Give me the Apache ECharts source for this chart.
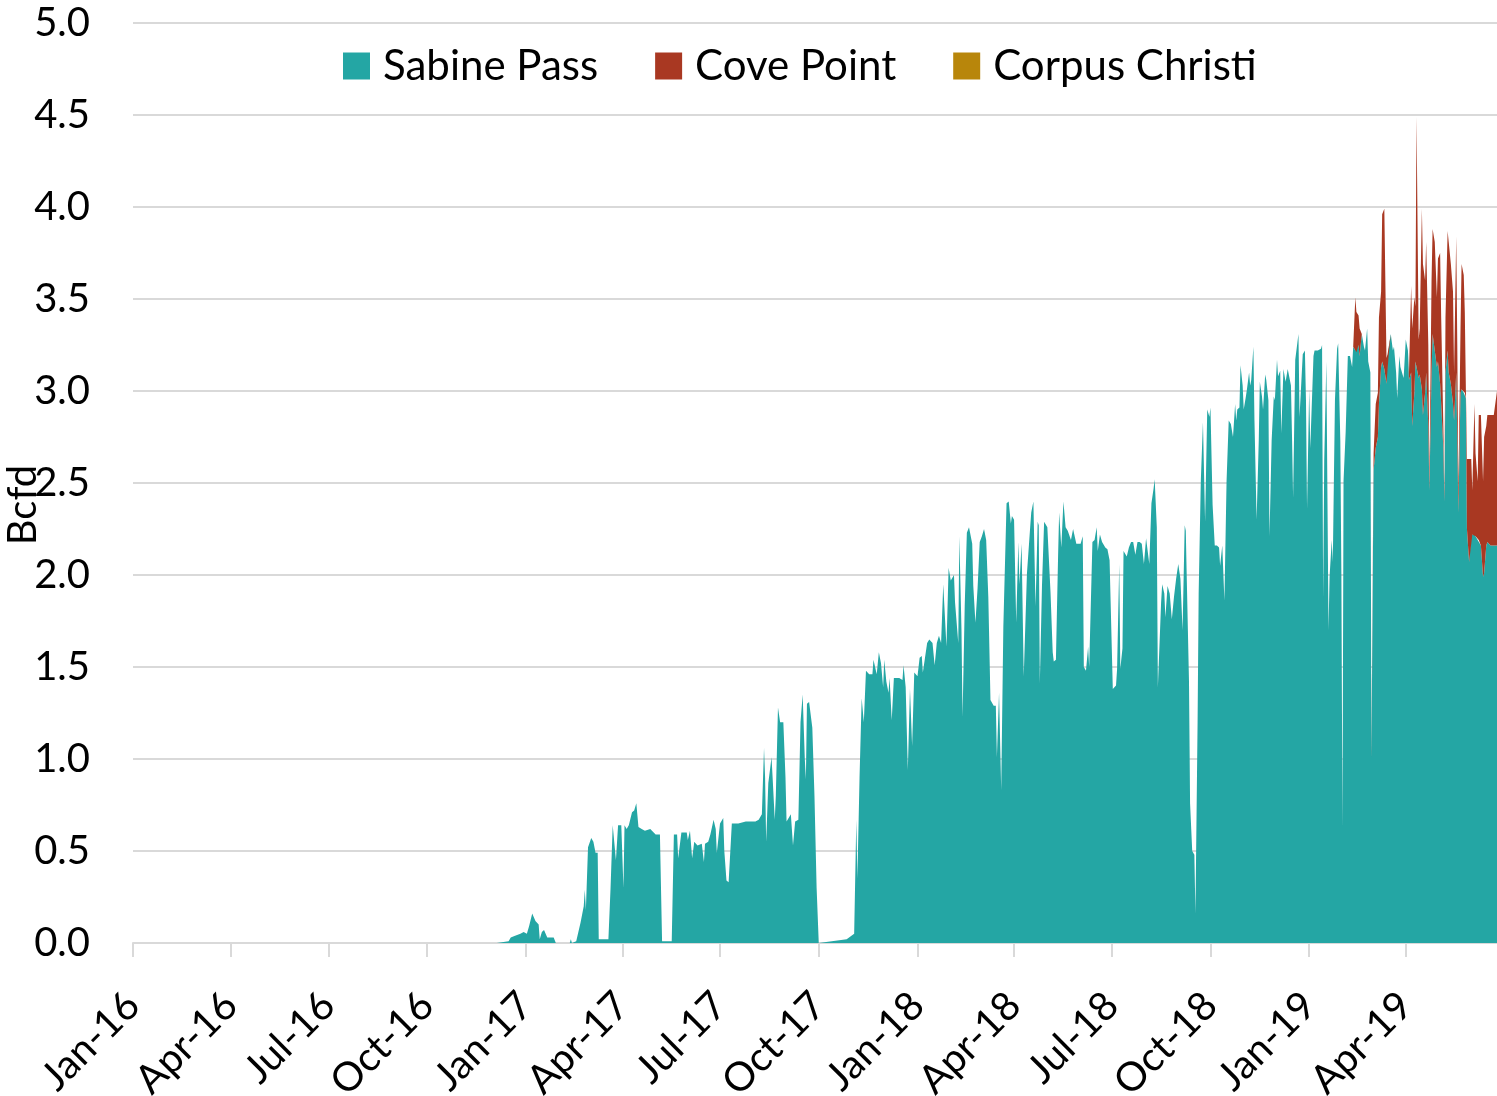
<!DOCTYPE html>
<html lang="en">
<head>
    <meta charset="UTF-8">
    <title>LNG export terminals - feedgas</title>
    <script type="text/javascript" src="https://cdn.jsdelivr.net/npm/echarts@6/dist/echarts.min.js"></script>
    <style>
        html, body { margin: 0; padding: 0; background: #fff; }
        #main { width: 1497px; height: 1096px; }
    </style>
</head>
<body>
    <div id="main"></div>
    <script type="text/javascript">
        // day offsets counted from 1 Jan 2016
        const sabinePassDays = [
            0, 339, 350, 352, 356, 361, 364, 367, 369, 372,
            375, 378, 379, 381, 383, 386, 392, 394, 407, 408,
            409, 413, 417, 420, 421, 422, 424, 427, 429, 431,
            433, 434, 443, 445, 447, 448, 450, 452, 455, 457,
            458, 460, 462, 465, 467, 469, 471, 474, 477, 482,
            487, 491, 493, 502, 504, 507, 508, 511, 516, 517,
            519, 521, 523, 526, 530, 532, 533, 536, 538, 541,
            543, 544, 547, 550, 551, 553, 555, 558, 564, 571,
            580, 583, 586, 588, 589, 590, 592, 595, 596, 598,
            599, 601, 603, 606, 608, 609, 613, 615, 617, 620,
            622, 624, 626, 627, 628, 630, 633, 635, 637, 639,
            665, 672, 674, 675, 677, 679, 681, 683, 686, 689,
            690, 693, 695, 697, 699, 700, 702, 704, 705, 707,
            709, 714, 717, 718, 720, 722, 724, 726, 728, 731,
            733, 735, 736, 738, 740, 742, 745, 747, 749, 751,
            753, 755, 758, 760, 762, 765, 766, 769, 770, 772,
            773, 775, 777, 779, 782, 783, 785, 787, 789, 791,
            793, 795, 797, 799, 802, 804, 805, 807, 809, 811,
            814, 816, 818, 819, 821, 823, 825, 826, 828, 830,
            831, 833, 836, 837, 839, 841, 843, 844, 845, 847,
            849, 852, 853, 855, 857, 858, 860, 862, 863, 865,
            867, 869, 871, 874, 876, 877, 879, 883, 885, 886,
            888, 890, 891, 894, 896, 898, 899, 901, 903, 906,
            908, 910, 913, 916, 917, 919, 920, 922, 923, 926,
            928, 930, 932, 934, 936, 938, 940, 942, 944, 947,
            949, 951, 952, 954, 955, 958, 959, 961, 962, 964,
            966, 968, 970, 972, 974, 976, 978, 980, 981, 982,
            984, 985, 987, 989, 990, 992, 993, 995, 997, 999,
            1001, 1003, 1004, 1006, 1008, 1010, 1012, 1013, 1015, 1017,
            1019, 1021, 1023, 1025, 1027, 1028, 1029, 1031, 1032, 1034,
            1035, 1037, 1038, 1040, 1041, 1042, 1044, 1045, 1047, 1049,
            1050, 1052, 1053, 1055, 1056, 1058, 1059, 1061, 1063, 1064,
            1066, 1067, 1069, 1070, 1072, 1074, 1076, 1077, 1079, 1080,
            1081, 1083, 1086, 1087, 1090, 1092, 1093, 1094, 1096, 1097,
            1100, 1101, 1104, 1105, 1107, 1108, 1109, 1110, 1112, 1114,
            1115, 1117, 1118, 1120, 1122, 1123, 1125, 1126, 1127, 1128,
            1130, 1132, 1134, 1136, 1137, 1139, 1140, 1142, 1143, 1145,
            1147, 1148, 1150, 1151, 1153, 1154, 1156, 1158, 1160, 1161,
            1163, 1164, 1166, 1168, 1169, 1170, 1172, 1174, 1175, 1177,
            1178, 1180, 1181, 1183, 1184, 1186, 1188, 1189, 1191, 1192,
            1194, 1195, 1196, 1198, 1199, 1201, 1202, 1204, 1205, 1207,
            1208, 1210, 1211, 1213, 1215, 1216, 1218, 1219, 1221, 1222,
            1223, 1225, 1226, 1228, 1230, 1231, 1233, 1234, 1235, 1237,
            1238, 1240, 1241, 1242, 1243, 1245, 1247, 1248, 1250, 1251,
            1253, 1254, 1256, 1258, 1259, 1261, 1262, 1265, 1268, 1271
        ];

        // Bcfd
        const sabinePass = [
            0, 0, 0.01, 0.03, 0.04, 0.05, 0.06, 0.05, 0.09, 0.16,
            0.12, 0.10, 0.02, 0.06, 0.07, 0.03, 0.03, 0, 0, 0.02,
            0, 0.01, 0.11, 0.20, 0.29, 0.18, 0.52, 0.57, 0.55, 0.49,
            0.49, 0.02, 0.02, 0.30, 0.64, 0.64, 0.45, 0.64, 0.64, 0.30,
            0.64, 0.62, 0.64, 0.71, 0.72, 0.76, 0.63, 0.62, 0.61, 0.62,
            0.59, 0.59, 0.01, 0.01, 0.59, 0.59, 0.46, 0.60, 0.60, 0.56,
            0.61, 0.46, 0.55, 0.53, 0.54, 0.44, 0.54, 0.55, 0.59, 0.67,
            0.62, 0.49, 0.65, 0.68, 0.50, 0.34, 0.33, 0.65, 0.65, 0.66,
            0.66, 0.67, 0.70, 1.06, 0.90, 0.55, 0.87, 1.01, 0.90, 0.67,
            0.80, 1.28, 1.20, 1.20, 0.90, 0.66, 0.70, 0.53, 0.66, 0.67,
            1.20, 1.35, 1.00, 0.89, 1.30, 1.31, 1.17, 0.80, 0.30, 0,
            0.02, 0.05, 0.67, 0.35, 0.90, 1.33, 1.20, 1.48, 1.46, 1.46,
            1.54, 1.46, 1.58, 1.52, 1.39, 1.54, 1.42, 1.36, 1.44, 1.21,
            1.44, 1.44, 1.43, 1.51, 1.39, 0.94, 1.38, 1.07, 1.47, 1.45,
            1.55, 1.56, 1.47, 1.55, 1.63, 1.65, 1.63, 1.51, 1.63, 1.67,
            1.63, 1.95, 1.61, 2.04, 1.97, 2.00, 1.85, 1.63, 2.21, 1.70,
            1.23, 1.83, 2.23, 2.26, 2.17, 1.94, 1.74, 1.93, 2.18, 2.21,
            2.25, 2.19, 1.88, 1.32, 1.29, 1.29, 1.01, 1.36, 0.83, 1.72,
            2.39, 2.40, 2.28, 2.32, 2.30, 1.74, 2.18, 1.95, 2.17, 1.45,
            1.46, 2.01, 2.26, 2.34, 2.40, 1.83, 2.29, 2.27, 1.41, 1.94,
            2.29, 2.26, 2.25, 1.90, 1.58, 1.53, 1.54, 2.10, 2.34, 2.15,
            2.40, 2.26, 2.24, 2.19, 2.25, 2.25, 2.17, 2.17, 2.21, 1.50,
            1.48, 1.61, 1.50, 2.18, 2.19, 2.26, 2.13, 2.22, 2.18, 2.15,
            2.14, 2.08, 1.38, 1.40, 1.49, 2.06, 1.49, 1.60, 2.13, 2.10,
            2.15, 2.18, 2.18, 2.11, 2.18, 2.18, 2.17, 2.06, 2.20, 2.06,
            2.39, 2.47, 2.52, 2.26, 1.39, 1.85, 1.95, 1.90, 1.77, 1.94,
            1.90, 1.76, 1.88, 1.98, 2.06, 1.98, 1.70, 2.27, 2.24, 1.96,
            1.42, 0.76, 0.50, 0.48, 0.16, 1.20, 1.90, 2.51, 2.83, 2.29,
            2.90, 2.86, 2.91, 2.38, 2.16, 2.16, 2.15, 2.05, 2.16, 1.86,
            2.51, 2.84, 2.82, 2.75, 2.93, 2.84, 2.90, 2.91, 3.14, 3.03,
            2.90, 2.97, 3.01, 3.10, 3.03, 3.06, 3.24, 2.84, 2.30, 2.73,
            3.05, 2.97, 2.90, 3.09, 3.06, 2.95, 2.21, 2.73, 2.97, 2.95,
            3.17, 3.08, 3.11, 2.77, 3.12, 3.05, 3.12, 3.11, 3.03, 2.75,
            2.42, 3.17, 3.31, 2.86, 3.20, 3.22, 2.95, 2.36, 3.01, 2.69,
            3.19, 3.22, 3.22, 3.21, 3.23, 3.25, 1.88, 2.62, 3.16, 1.70,
            1.99, 2.19, 2.07, 2.95, 3.23, 3.26, 2.73, 2.00, 0.63, 2.51,
            2.78, 3.19, 3.19, 3.13, 3.24, 3.22, 3.21, 3.25, 3.19, 3.31,
            3.24, 3.22, 3.34, 3.16, 3.10, 1.01, 2.57, 2.69, 2.75, 2.93,
            3.13, 3.16, 3.12, 3.04, 3.18, 3.19, 3.31, 3.22, 3.24, 3.10,
            2.96, 3.19, 3.13, 3.09, 3.07, 3.28, 3.22, 3.06, 3.10, 2.81,
            2.99, 3.16, 3.13, 3.07, 3.09, 3.01, 2.87, 2.99, 3.10, 2.81,
            2.46, 3.10, 3.31, 3.22, 3.13, 3.16, 3.04, 2.93, 2.69, 2.40,
            3.10, 3.22, 3.10, 3.04, 2.93, 2.84, 3.10, 2.75, 2.34, 2.99,
            3.01, 2.99, 2.99, 2.96, 2.25, 2.07, 2.22, 2.22, 2.22, 2.21,
            2.19, 2.19, 2.16, 1.99, 2.01, 2.16, 2.18, 2.16, 2.16, 2.16
        ];

        // Cove Point volumes, stacked on Sabine Pass (first shows in Feb-19)
        const covePointDays = [
            1137, 1139, 1140, 1142, 1143, 1145,
            1147, 1148, 1150, 1151, 1153, 1154, 1156, 1158, 1160, 1161,
            1163, 1164, 1166, 1168, 1169, 1170, 1172, 1174, 1175, 1177,
            1178, 1180, 1181, 1183, 1184, 1186, 1188, 1189, 1191, 1192,
            1194, 1195, 1196, 1198, 1199, 1201, 1202, 1204, 1205, 1207,
            1208, 1210, 1211, 1213, 1215, 1216, 1218, 1219, 1221, 1222,
            1223, 1225, 1226, 1228, 1230, 1231, 1233, 1234, 1235, 1237,
            1238, 1240, 1241, 1242, 1243, 1245, 1247, 1248, 1250, 1251,
            1253, 1254, 1256, 1258, 1259, 1261, 1262, 1265, 1268, 1271
        ];
        const covePoint = [
            0, 0.29, 0.22, 0.16, 0.15, 0,
            0, 0, 0, 0, 0, 0.04, 0.09, 0.24, 0.24, 0.47,
            0.41, 0.80, 0.87, 0.14, 0.02, 0.02, 0, 0, 0, 0,
            0, 0, 0, 0, 0, 0, 0, 0.04, 0.47, 0.53,
            0.52, 0.30, 1.36, 0.21, 0.25, 0.98, 0.82, 0.61, 0.71, 0.44,
            0.05, 0.50, 0.57, 0.59, 0.38, 0.56, 0.71, 0.47, 0.12, 0.05,
            0.30, 0.65, 0.71, 0.65, 0.61, 0.26, 0.74, 0.50, 0.11, 0.35,
            0.68, 0.64, 0.44, 0.05, 0.38, 0.56, 0.41, 0.24, 0.71, 0.45,
            0.32, 0.68, 0.71, 0.52, 0.74, 0.65, 0.69, 0.71, 0.71, 0.84
        ];

        // Corpus Christi shows no visible volume over the period
        const corpusChristiDays = [0, 1271];
        const corpusChristi = [0, 0];

        const quarterStarts = [
            '2016-01-01', '2016-04-01', '2016-07-01', '2016-10-01',
            '2017-01-01', '2017-04-01', '2017-07-01', '2017-10-01',
            '2018-01-01', '2018-04-01', '2018-07-01', '2018-10-01',
            '2019-01-01', '2019-04-01'
        ];
        const quarterLabels = [
            'Jan-16', 'Apr-16', 'Jul-16', 'Oct-16',
            'Jan-17', 'Apr-17', 'Jul-17', 'Oct-17',
            'Jan-18', 'Apr-18', 'Jul-18', 'Oct-18',
            'Jan-19', 'Apr-19'
        ];

        if (sabinePass.length !== sabinePassDays.length || covePoint.length !== covePointDays.length) {
            throw new Error('series length mismatch');
        }

        function dayToDate(d) {
            return new Date(Date.UTC(2016, 0, 1 + d)).toISOString().slice(0, 10);
        }

        // one category per calendar day, 1 Jan 2016 up to the last reading
        const lastDay = sabinePassDays[sabinePassDays.length - 1];
        const calendar = [];
        for (let d = 0; d <= lastDay; d++) {
            calendar.push(dayToDate(d));
        }

        function isQuarterStart(index, value) {
            return quarterStarts.indexOf(value) >= 0;
        }

        const FONT = 'Lato';

        function pairs(days, values) {
            return days.map(function (d, i) {
                return [d, values[i]];
            });
        }

        function area(name, color, data, stack) {
            return {
                name: name,
                type: 'line',
                stack: stack,
                data: data,
                symbol: 'none',
                showSymbol: false,
                color: color,
                itemStyle: { color: color },
                lineStyle: { width: 0, color: color },
                areaStyle: { color: color, opacity: 1 },
                emphasis: { disabled: true }
            };
        }

        const myChart = echarts.init(document.getElementById('main'));
        const option = {
            animation: false,
            grid: {
                left: 133,
                right: 0,
                top: 23,
                bottom: 153,
                containLabel: false,
                outerBoundsMode: 'none'
            },
            legend: {
                left: 338,
                top: 40,
                icon: 'rect',
                itemWidth: 27,
                itemHeight: 27,
                itemGap: 57,
                textStyle: {
                    fontFamily: FONT,
                    fontSize: 42,
                    color: '#000',
                    padding: [0, 0, 0, 8]
                },
                data: ['Sabine Pass', 'Cove Point', 'Corpus Christi']
            },
            xAxis: {
                type: 'category',
                data: calendar,
                boundaryGap: false,
                axisLine: { lineStyle: { color: '#d9d9d9', width: 2 } },
                axisTick: {
                    show: true,
                    interval: isQuarterStart,
                    length: 14,
                    lineStyle: { color: '#d9d9d9', width: 2 }
                },
                axisLabel: {
                    interval: isQuarterStart,
                    rotate: 45,
                    margin: 56,
                    fontFamily: FONT,
                    fontSize: 40,
                    color: '#000',
                    formatter: function (value) {
                        const i = quarterStarts.indexOf(value);
                        return i >= 0 ? quarterLabels[i] : '';
                    }
                },
                splitLine: { show: false }
            },
            yAxis: {
                type: 'value',
                min: 0,
                max: 5,
                interval: 0.5,
                axisLine: { show: false },
                axisTick: { show: false },
                axisLabel: {
                    margin: 43,
                    fontFamily: FONT,
                    fontSize: 40,
                    color: '#000',
                    formatter: function (v) { return v.toFixed(1); }
                },
                splitLine: { lineStyle: { color: '#d9d9d9', width: 2 } }
            },
            graphic: [{
                type: 'text',
                x: 23,
                y: 505,
                rotation: Math.PI / 2,
                z: 100,
                style: {
                    text: 'Bcfd',
                    fontFamily: FONT,
                    fontSize: 40,
                    fill: '#000',
                    align: 'center',
                    verticalAlign: 'middle'
                }
            }],
            series: [
                area('Sabine Pass', '#24a6a4', pairs(sabinePassDays, sabinePass), 'total'),
                area('Cove Point', '#a93822', pairs(covePointDays, covePoint), 'total'),
                area('Corpus Christi', '#b8860b', pairs(corpusChristiDays, corpusChristi), null)
            ]
        };
        myChart.setOption(option);
    </script>
</body>
</html>
